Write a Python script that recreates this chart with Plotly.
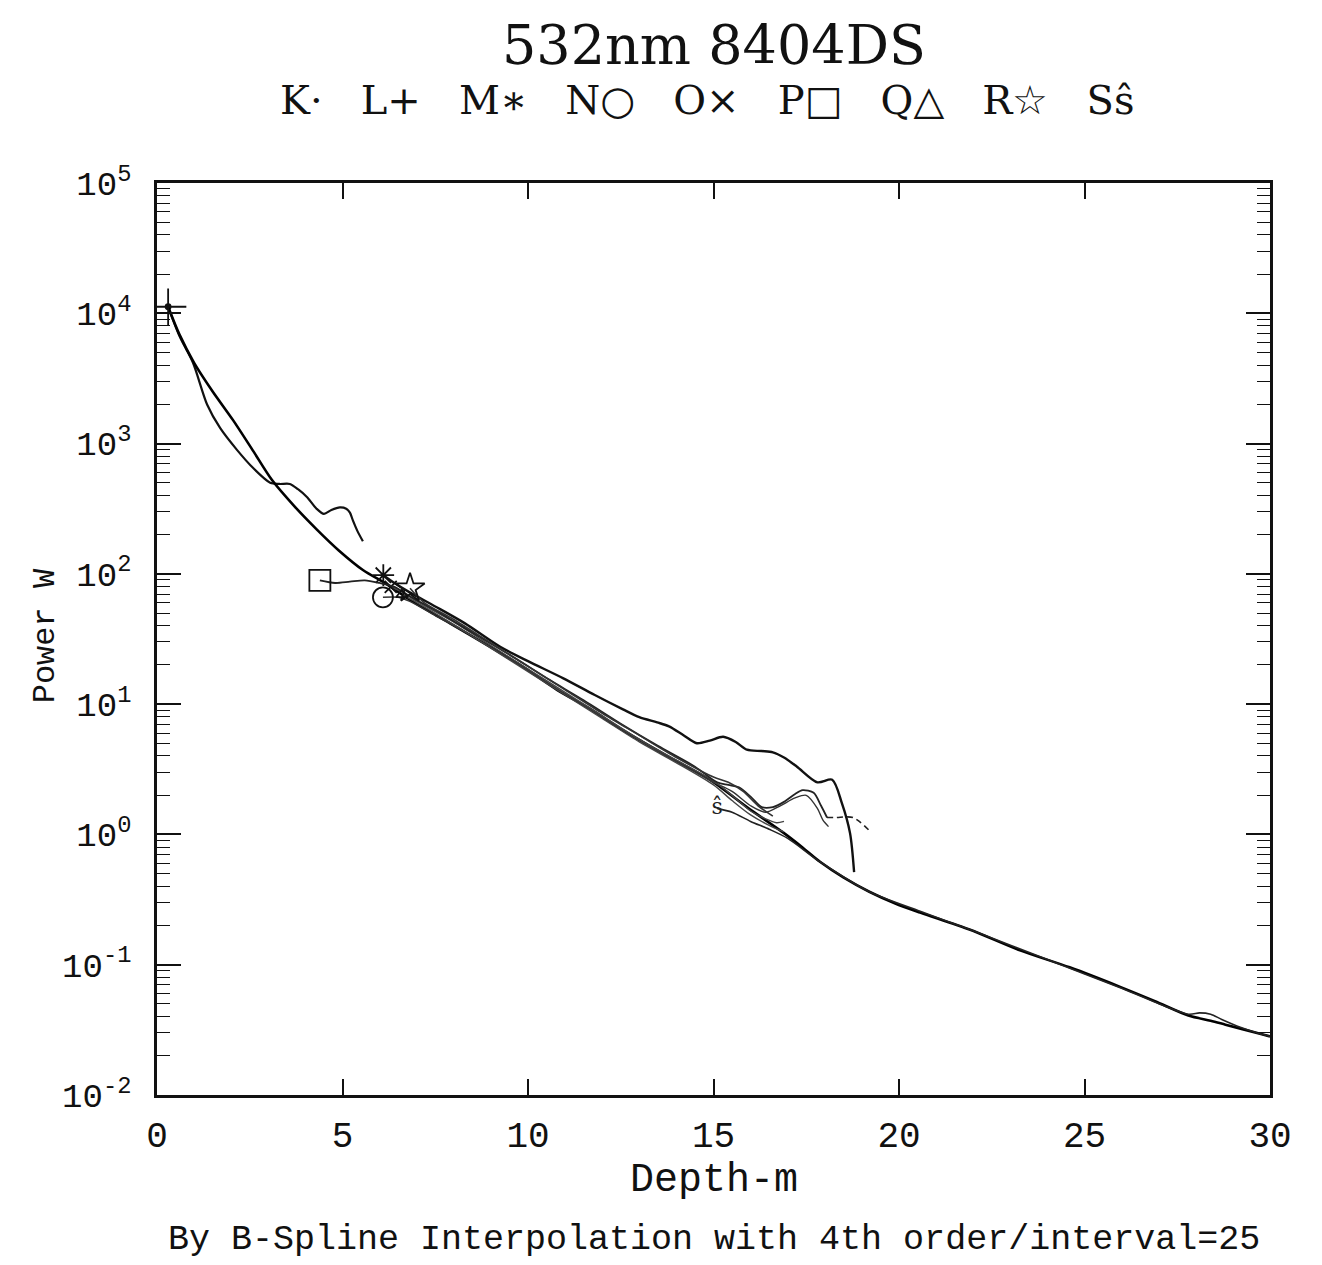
import numpy as np
import plotly.graph_objects as go

# ---- data (depth in m, log10 of power in W) ----
K_depth = [0.3, 0.6, 0.97, 1.35, 1.7, 2.16, 2.6, 3.05, 3.3, 3.58, 3.8, 4.04, 4.3, 4.5, 4.7, 4.93, 5.1, 5.2, 5.28, 5.4, 5.55]
K_log10W = [4.05, 3.83, 3.62, 3.30, 3.12, 2.95, 2.81, 2.70, 2.69, 2.69, 2.65, 2.59, 2.50, 2.46, 2.49, 2.51, 2.50, 2.47, 2.41, 2.33, 2.25]

L_depth = [0.3, 0.6, 1.0, 1.5, 2.05, 2.6, 3.1, 3.7, 4.31, 4.9, 5.55, 6.2, 6.82, 7.9, 8.98, 9.9, 10.78, 11.7, 12.56, 13.7,
           14.9, 15.9, 16.9, 17.4, 17.87, 18.5, 19.2, 19.9, 20.57, 21.9, 23.26, 24.6, 25.96, 26.9, 27.8, 28.4, 28.8, 29.73, 30.0]
L_log10W = [4.05, 3.84, 3.62, 3.40, 3.18, 2.94, 2.72, 2.52, 2.34, 2.18, 2.03, 1.92, 1.80, 1.62, 1.44, 1.28, 1.11, 0.96, 0.80, 0.61,
            0.42, 0.21, 0.01, -0.10, -0.21, -0.33, -0.44, -0.53, -0.60, -0.73, -0.89, -1.02, -1.17, -1.28, -1.39, -1.43, -1.46, -1.53, -1.55]

M_depth = [6.1, 6.4, 6.8, 7.5, 8.3, 9.25, 10.0, 10.94, 11.8, 12.56, 13.0, 13.48, 13.8, 14.2, 14.55, 14.9, 15.26, 15.6, 15.9,
           16.3, 16.6, 16.9, 17.25, 17.8, 18.2, 18.46, 18.68, 18.79]
M_log10W = [1.99, 1.93, 1.86, 1.75, 1.62, 1.44, 1.33, 1.20, 1.07, 0.96, 0.90, 0.86, 0.83, 0.76, 0.70, 0.72, 0.75, 0.71, 0.65,
            0.64, 0.63, 0.59, 0.52, 0.40, 0.42, 0.24, 0.01, -0.29]

N_depth = [6.09, 6.5, 6.8, 7.5, 8.5, 9.5, 10.5, 11.5, 12.5, 13.5, 14.5, 15.0, 15.5, 16.0, 16.4, 16.8, 17.2, 17.5, 17.8, 17.95, 18.1]
N_log10W = [1.82, 1.82, 1.79, 1.68, 1.52, 1.35, 1.17, 0.99, 0.81, 0.64, 0.48, 0.40, 0.33, 0.22, 0.17, 0.22, 0.28, 0.30, 0.20, 0.11, 0.06]

O_depth = [6.3, 6.6, 7.0, 8.0, 9.0, 10.0, 11.0, 12.0, 13.0, 14.0, 15.0, 15.5, 16.0, 16.4, 16.7, 16.9]
O_log10W = [1.90, 1.86, 1.79, 1.63, 1.45, 1.27, 1.09, 0.91, 0.73, 0.57, 0.41, 0.30, 0.18, 0.12, 0.09, 0.10]

P_depth = [4.39, 4.8, 5.2, 5.6, 6.0, 6.4, 6.8, 7.5, 8.5, 9.5, 10.5, 11.5, 12.5, 13.5, 14.5, 15.1, 15.4, 15.7, 16.0, 16.3,
           16.6, 16.9, 17.2, 17.4, 17.7, 17.9, 18.06]
P_log10W = [1.95, 1.93, 1.94, 1.95, 1.93, 1.90, 1.83, 1.72, 1.55, 1.38, 1.20, 1.03, 0.85, 0.68, 0.52, 0.40, 0.38, 0.36, 0.29, 0.21,
            0.21, 0.25, 0.31, 0.34, 0.32, 0.22, 0.13]
P_tail_depth = [18.06, 18.3, 18.76, 19.2]
P_tail_log10W = [0.13, 0.13, 0.13, 0.03]

Q_depth = [6.6, 7.0, 8.0, 9.0, 10.0, 11.0, 12.0, 13.0, 14.0, 15.0, 15.5, 16.0, 16.5, 16.9]
Q_log10W = [1.84, 1.78, 1.61, 1.43, 1.25, 1.07, 0.89, 0.71, 0.55, 0.38, 0.26, 0.15, 0.07, 0.02]

R_depth = [6.82, 7.2, 8.0, 9.0, 10.0, 11.0, 12.0, 13.0, 14.0, 15.0, 15.4, 15.8, 16.2, 16.6]
R_log10W = [1.89, 1.78, 1.65, 1.47, 1.29, 1.11, 0.93, 0.76, 0.59, 0.44, 0.40, 0.33, 0.22, 0.14]

S_depth = [15.1, 15.5, 16.0, 16.5, 17.0, 17.87, 19.2, 20.57, 22.0, 24.0, 26.0, 27.8, 28.1, 28.4, 28.7, 29.2, 29.73, 30.0]
S_log10W = [0.20, 0.17, 0.10, 0.04, -0.03, -0.21, -0.44, -0.59, -0.74, -0.96, -1.18, -1.38, -1.37, -1.38, -1.42, -1.48, -1.53, -1.55]

series_names = ["K", "L", "M", "N", "O", "P", "Q", "R", "S"]
x_ticks = [0, 5, 10, 15, 20, 25, 30]
y_decades = [-2, -1, 0, 1, 2, 3, 4, 5]

series = {
    "K": (K_depth, K_log10W, "circle", 5, 2.2, "#111"),
    "L": (L_depth, L_log10W, "cross-thin-open", 26, 2.6, "#000"),
    "M": (M_depth, M_log10W, "asterisk-open", 18, 2.4, "#111"),
    "N": (N_depth, N_log10W, "circle-open", 20, 1.4, "#333"),
    "O": (O_depth, O_log10W, "x-thin-open", 12, 1.4, "#444"),
    "P": (P_depth, P_log10W, "square-open", 21, 1.8, "#222"),
    "Q": (Q_depth, Q_log10W, "triangle-up-open", 10, 1.4, "#444"),
    "R": (R_depth, R_log10W, "star-open", 22, 1.6, "#333"),
    "S": (S_depth, S_log10W, None, 0, 1.6, "#222"),
}

def w(v):
    return np.power(10.0, np.asarray(v, dtype=float))

fig = go.Figure()
for name in series_names:
    d, lg, sym, msz, lw, col = series[name]
    fig.add_trace(go.Scatter(x=d, y=w(lg), mode="lines",
                             line=dict(color=col, width=lw, shape="spline", smoothing=0.8),
                             showlegend=False, hoverinfo="skip"))
    if sym is not None:
        fig.add_trace(go.Scatter(x=[d[0]], y=w([lg[0]]), mode="markers",
                                 marker=dict(symbol=sym, size=msz, color="#111",
                                             line=dict(color="#111", width=1.8)),
                                 showlegend=False, hoverinfo="skip"))
    else:
        fig.add_trace(go.Scatter(x=[d[0]], y=w([lg[0]]), mode="text", text=["ŝ"],
                                 textfont=dict(family="DejaVu Serif", size=22, color="#222"),
                                 showlegend=False, hoverinfo="skip"))

fig.add_trace(go.Scatter(x=P_tail_depth, y=w(P_tail_log10W), mode="lines",
                         line=dict(color="#222", width=1.6, dash="6px,4px", shape="spline", smoothing=0.8),
                         showlegend=False, hoverinfo="skip"))

minor_vals = [m * 10.0 ** k for k in range(-2, 5) for m in range(2, 10)]

mono = "Liberation Mono"
fig.update_layout(
    width=1322, height=1265,
    margin=dict(l=157, r=52, t=183, b=170),
    paper_bgcolor="white", plot_bgcolor="white",
    font=dict(family=mono, color="#111"),
    xaxis=dict(range=[0, 30], tickvals=x_ticks, ticktext=[str(v) for v in x_ticks],
               ticks="inside", ticklen=16, tickwidth=1.6, tickcolor="#111",
               showline=True, linewidth=2.5, linecolor="#111", mirror="allticks",
               showgrid=False, zeroline=False, ticklabelstandoff=6,
               tickfont=dict(family=mono, size=36, color="#111")),
    yaxis=dict(type="log", range=[-2, 5], tickvals=[10.0 ** k for k in y_decades],
               ticktext=["10<sup>%d</sup>" % k for k in y_decades],
               ticks="inside", ticklen=24, tickwidth=1.6, tickcolor="#111",
               showline=True, linewidth=2.5, linecolor="#111", mirror="allticks",
               showgrid=False, zeroline=False, ticklabelstandoff=16,
               tickfont=dict(family=mono, size=34, color="#111"),
               minor=dict(tickvals=minor_vals, ticks="inside", ticklen=13, tickwidth=1.4,
                          tickcolor="#111", showgrid=False)),
    annotations=[
        dict(text="532nm 8404DS", x=0.5, y=1.151, xref="paper", yref="paper", showarrow=False,
             xanchor="center", yanchor="middle", font=dict(family="DejaVu Serif", size=54, color="#111")),
        dict(text="K·   L+   M∗   N○   O×   P□   Q△   R☆   Sŝ", x=0.495, y=1.091, xref="paper", yref="paper",
             showarrow=False, xanchor="center", yanchor="middle",
             font=dict(family="DejaVu Serif", size=40, color="#111")),
        dict(text="Depth-m", x=0.5, y=-0.094, xref="paper", yref="paper", showarrow=False,
             xanchor="center", yanchor="middle", font=dict(family=mono, size=40, color="#111")),
        dict(text="Power W", x=-0.1006, y=0.503, xref="paper", yref="paper", showarrow=False,
             textangle=-90, xanchor="center", yanchor="middle", font=dict(family=mono, size=32, color="#111")),
        dict(text="By B-Spline Interpolation with 4th order/interval=25", x=0.5, y=-0.159,
             xref="paper", yref="paper", showarrow=False, xanchor="center", yanchor="middle",
             font=dict(family=mono, size=35, color="#111")),
    ],
)

fig.write_html("out.html")
